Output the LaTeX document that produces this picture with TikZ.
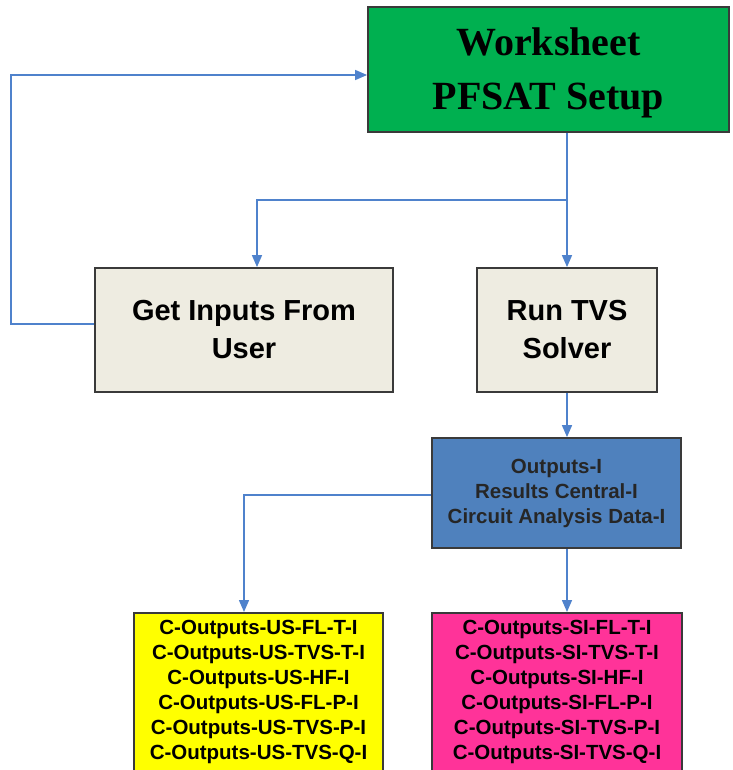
\documentclass[tikz,border=0pt]{standalone}
\usepackage{fontspec}
\setmainfont{Liberation Serif}
\setsansfont{Liberation Sans}
\usetikzlibrary{arrows.meta}
\definecolor{boxgreen}{HTML}{00B050}
\definecolor{boxbeige}{HTML}{EEECE1}
\definecolor{boxblue}{HTML}{4F81BD}
\definecolor{boxyellow}{HTML}{FFFF00}
\definecolor{boxpink}{HTML}{FF3399}
\definecolor{boxline}{HTML}{3A3A3A}
\definecolor{linkblue}{HTML}{4F82CC}
\begin{document}
\begin{tikzpicture}[x=1pt,y=-1pt,
  box/.style={draw=boxline, line width=1.8pt, rectangle, inner sep=0pt, align=center},
  conn/.style={draw=linkblue, line width=1.5pt},
  arr/.style={conn, -{Triangle[length=12pt,width=10pt]}},
  bigsans/.style={font=\sffamily\bfseries\fontsize{29}{38}\selectfont},
  smallsans/.style={font=\sffamily\bfseries\fontsize{20.5}{25}\selectfont}]
\useasboundingbox (0,0) rectangle (732,770);
\clip (0,0) rectangle (732,770);
\node[box, fill=boxgreen, minimum width=361pt, minimum height=125pt, text depth=2pt,
      font=\bfseries\fontsize{40}{54}\selectfont] (ws) at (548.5,69.5) {Worksheet\\PFSAT Setup};
\node[box, fill=boxbeige, minimum width=298pt, minimum height=124pt, bigsans] (get) at (244,330) {Get Inputs From\\User};
\node[box, fill=boxbeige, minimum width=180pt, minimum height=124pt, bigsans] (tvs) at (567,330) {Run TVS\\Solver};
\node[box, fill=boxblue, minimum width=249pt, minimum height=110pt, smallsans, text=black!85] (blue) at (556.5,493) {Outputs-I\\Results Central-I\\Circuit Analysis Data-I};
\node[box, fill=boxyellow, minimum width=249pt, inner ysep=7pt, text depth=20pt, anchor=north, smallsans] (yel) at (258.5,612)
  {C-Outputs-US-FL-T-I\\C-Outputs-US-TVS-T-I\\C-Outputs-US-HF-I\\C-Outputs-US-FL-P-I\\C-Outputs-US-TVS-P-I\\C-Outputs-US-TVS-Q-I};
\node[box, fill=boxpink, minimum width=250pt, inner ysep=7pt, text depth=20pt, anchor=north, smallsans] (pink) at (557,612)
  {C-Outputs-SI-FL-T-I\\C-Outputs-SI-TVS-T-I\\C-Outputs-SI-HF-I\\C-Outputs-SI-FL-P-I\\C-Outputs-SI-TVS-P-I\\C-Outputs-SI-TVS-Q-I};
\coordinate (br) at (567,200);
\coordinate (lp) at (11,75);
\draw[conn] (ws.south -| tvs.north) -- (br);
\draw[arr] (br) -- (tvs.north);
\draw[arr] (br) -| ([xshift=13pt]get.north);
\draw[arr] ([yshift=6pt]get.west) -| (lp) -- ([yshift=-5.5pt]ws.west);
\draw[arr] (tvs.south) -- (tvs.south |- blue.north);
\draw[arr] (blue.south -| tvs.south) -- (pink.north -| tvs.south);
\draw[arr] ([yshift=-2pt]blue.west) -| ([xshift=-14.5pt]yel.north);
\end{tikzpicture}
\end{document}
